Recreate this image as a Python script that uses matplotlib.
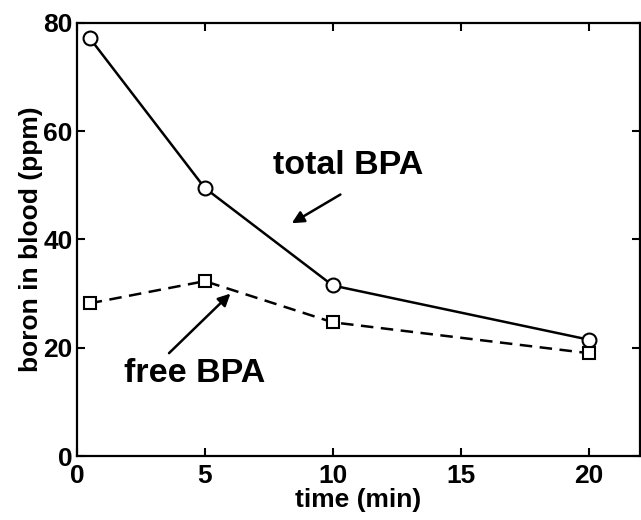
import matplotlib
matplotlib.use("Agg")
import matplotlib.pyplot as plt

time_min = [0.5, 5, 10, 20]
total_bpa = [77.2, 49.5, 31.5, 21.5]
free_bpa = [28.2, 32.3, 24.7, 19.0]

plt.rcParams['font.family'] = ['Liberation Sans', 'DejaVu Sans']
plt.rcParams['font.weight'] = 'bold'

fig = plt.figure(figsize=(6.41, 5.2), dpi=100)
ax = fig.add_axes([0.12, 0.123, 0.878, 0.833])

ax.plot(time_min, total_bpa, '-', color='black', lw=1.8,
        marker='o', ms=10, mfc='white', mec='black', mew=1.5)
ax.plot(time_min, free_bpa, '--', color='black', lw=1.8, dashes=(5, 3),
        marker='s', ms=9, mfc='white', mec='black', mew=1.5)

ax.set_xlim(0, 22)
ax.set_ylim(0, 80)
ax.set_xticks([0, 5, 10, 15, 20])
ax.set_yticks([0, 20, 40, 60, 80])
ax.tick_params(direction='in', top=True, right=True, length=6, width=1.5,
               labelsize=19)
ax.tick_params(axis='x', pad=6)
ax.tick_params(axis='y', pad=3)
for s in ax.spines.values():
    s.set_linewidth(1.6)

ax.set_xlabel('time (min)', fontsize=19, fontweight='bold', labelpad=0)
ax.set_ylabel('boron in blood (ppm)', fontsize=19, fontweight='bold', labelpad=0)

ax.text(10.6, 53.6, 'total BPA', fontsize=24.5, fontweight='bold',
        ha='center', va='center')
ax.annotate('', xy=(8.4, 43.0), xytext=(10.3, 48.3),
            arrowprops=dict(arrowstyle='-|>', color='black', lw=1.8,
                            shrinkA=0, shrinkB=0, mutation_scale=18))
ax.text(4.6, 15.2, 'free BPA', fontsize=24.5, fontweight='bold',
        ha='center', va='center')
ax.annotate('', xy=(6.0, 30.0), xytext=(3.6, 19.0),
            arrowprops=dict(arrowstyle='-|>', color='black', lw=1.8,
                            shrinkA=0, shrinkB=0, mutation_scale=18))

fig.savefig('out.png', dpi=100)
